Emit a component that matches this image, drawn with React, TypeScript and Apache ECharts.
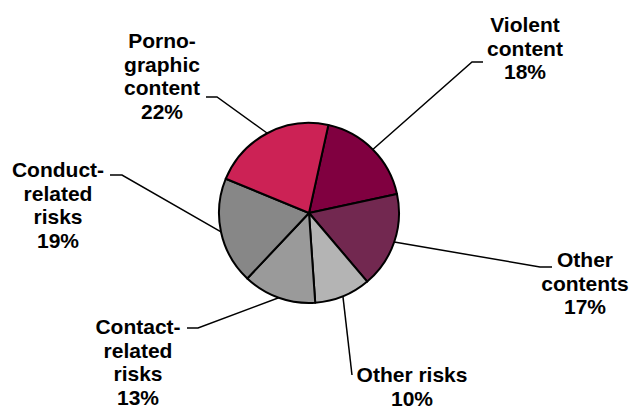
import React, { useEffect, useRef } from "react";
import * as echarts from "echarts";

const categories = [
  "Violent\ncontent",
  "Other\ncontents",
  "Other risks",
  "Contact-\nrelated\nrisks",
  "Conduct-\nrelated\nrisks",
  "Porno-\ngraphic\ncontent",
];
const values = [18, 17, 10, 13, 19, 22];
const colors = ["#800040", "#722850", "#b4b4b4", "#9a9a9a", "#878787", "#cc2255"];

// label layout (text anchor, elbow, end of leader line)
const labelPos = [
  { x: 525, y: 13, elbow: [472, 62], end: [483, 62] },
  { x: 585, y: 248, elbow: [540, 267], end: [552, 267] },
  { x: 412, y: 363, elbow: [352, 375], end: [352, 375] },
  { x: 138, y: 315, elbow: [198, 328], end: [187, 328] },
  { x: 58, y: 158, elbow: [122, 175], end: [110, 175] },
  { x: 162, y: 29, elbow: [217, 97], end: [206, 97] },
];

const CX = 309;
const CY = 213;
const R = 90;
const START = 77.6;

export default function App() {
  const ref = useRef<HTMLDivElement>(null);
  useEffect(() => {
    document.body.style.margin = "0";
    const chart = echarts.init(ref.current!, null, { renderer: "svg" });
    const total = values.reduce((a, b) => a + b, 0);
    const edge = (i: number) => {
      let before = 0;
      for (let k = 0; k < i; k++) before += values[k];
      const mid = START - ((before + values[i] / 2) / total) * 360;
      const rad = (mid * Math.PI) / 180;
      return [CX + R * Math.cos(rad), CY - R * Math.sin(rad)];
    };
    chart.setOption({
      animation: false,
      backgroundColor: "#ffffff",
      series: [
        {
          type: "pie",
          center: [CX, CY],
          radius: [0, R],
          startAngle: START,
          clockwise: true,
          avoidLabelOverlap: false,
          data: categories.map((name, i) => ({
            name,
            value: values[i],
            itemStyle: { color: colors[i] },
          })),
          itemStyle: { borderColor: "#000000", borderWidth: 2 },
          emphasis: { disabled: true },
          label: {
            show: true,
            position: "outside",
            formatter: "{b}\n{c}%",
            fontFamily: "Liberation Sans, Arial, sans-serif",
            fontWeight: "bold",
            fontSize: 21,
            lineHeight: 23.5,
            color: "#000000",
            align: "center",
          },
          labelLine: {
            show: true,
            lineStyle: { color: "#000000", width: 1.5 },
          },
          labelLayout: (params: any) => {
            const i = params.dataIndex;
            const p = labelPos[i];
            const e = edge(i);
            return {
              x: p.x,
              y: p.y,
              align: "center",
              verticalAlign: "top",
              labelLinePoints: [e, p.elbow, p.end],
            };
          },
        },
      ],
    });
    return () => chart.dispose();
  }, []);
  return <div ref={ref} style={{ width: 635, height: 407 }} />;
}
